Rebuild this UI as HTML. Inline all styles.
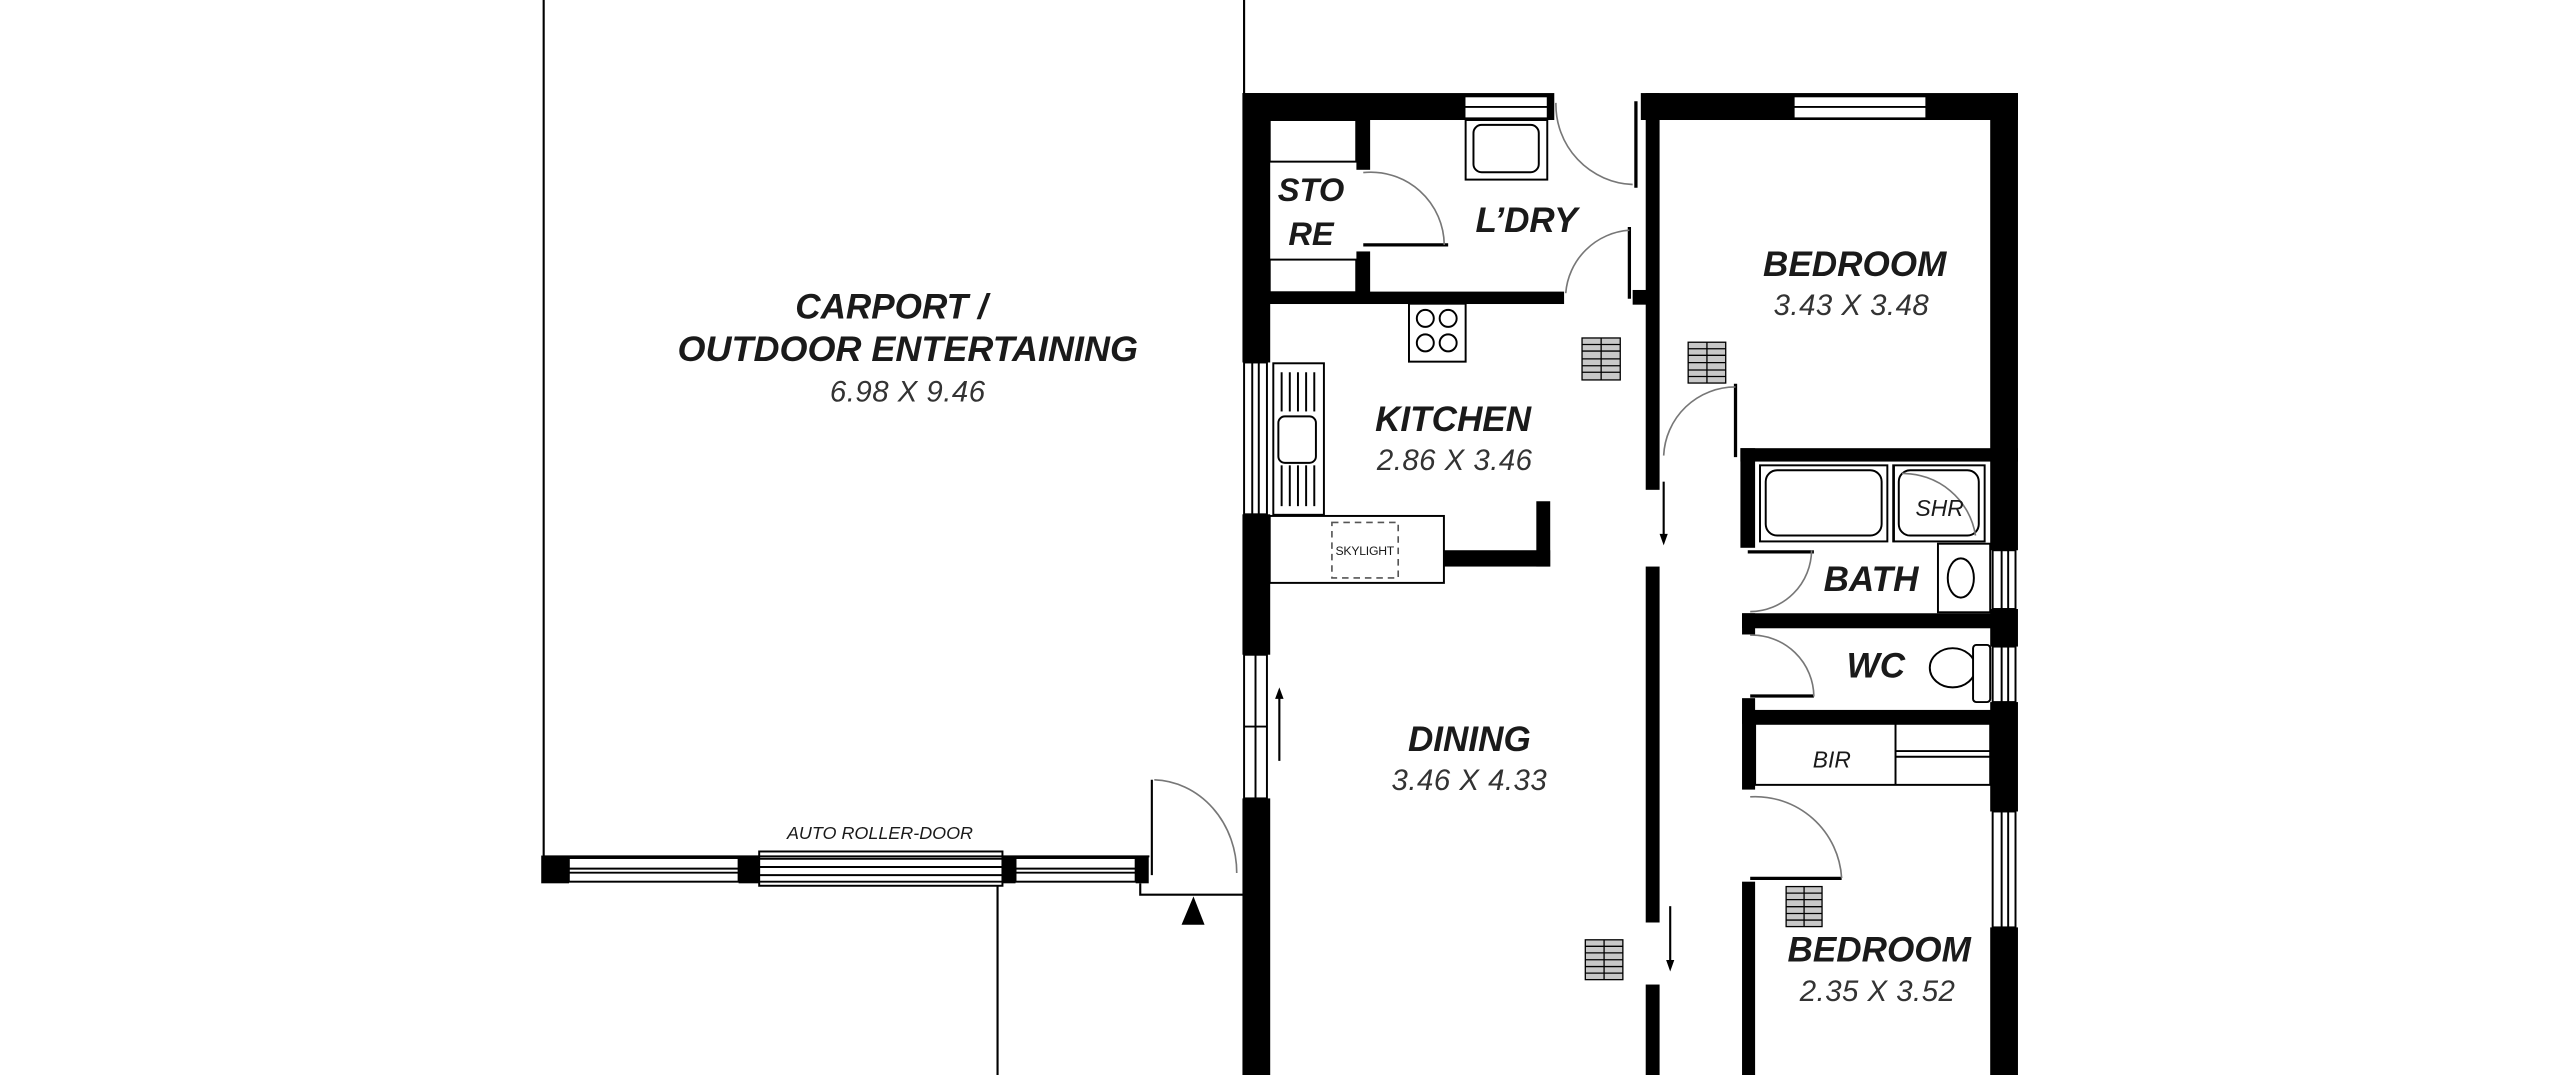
<!DOCTYPE html>
<html><head><meta charset="utf-8"><style>
html,body{margin:0;padding:0;background:#fff;width:2560px;height:1075px;overflow:hidden}
svg{display:block}
text{font-family:"Liberation Sans",Arial,sans-serif;font-style:italic;fill:#1a1a1a}
.t{font-weight:bold;font-size:21.5px}
.d{font-size:18px;fill:#333;letter-spacing:0.3px}
</style></head><body>
<svg width="2560" height="1075" viewBox="0 0 1568 658.4" preserveAspectRatio="none" xmlns="http://www.w3.org/2000/svg">
<g fill="#000" stroke="none">
<rect x="761" y="57" width="17" height="165"/>
<rect x="761" y="315" width="17" height="86"/>
<rect x="761" y="489" width="17" height="170"/>
<rect x="761" y="57" width="191" height="16.5"/>
<rect x="1005" y="57" width="231" height="16.5"/>
<rect x="1219" y="57" width="17" height="280"/>
<rect x="1219" y="373" width="17" height="23"/>
<rect x="1219" y="430" width="17" height="67"/>
<rect x="1219" y="568" width="17" height="91"/>
<rect x="1008" y="57" width="8.5" height="243"/>
<rect x="1000" y="177.6" width="9" height="9"/>
<rect x="1008" y="347" width="8.5" height="218"/>
<rect x="1008" y="603" width="8.5" height="56"/>
<rect x="830.8" y="73" width="8.4" height="31"/>
<rect x="830.8" y="154" width="8.4" height="25"/>
<rect x="777" y="178.6" width="181" height="7.6"/>
<rect x="941" y="307" width="8.5" height="40"/>
<rect x="884" y="337" width="65.5" height="10"/>
<rect x="1066" y="274.5" width="170" height="8.2"/>
<rect x="1066" y="274.5" width="9" height="61"/>
<rect x="1067" y="375.6" width="160" height="9.2"/>
<rect x="1067" y="375.6" width="8" height="13"/>
<rect x="1067" y="427.6" width="8" height="56"/>
<rect x="1067" y="434.8" width="160" height="8.5"/>
<rect x="1067" y="540" width="8" height="119"/>
<rect x="331.5" y="524" width="17" height="17"/>
<rect x="452.4" y="524" width="12.6" height="17"/>
<rect x="614" y="524" width="8" height="17"/>
<rect x="695.6" y="524" width="8" height="17"/>
<polygon points="731,549 723.7,566.4 737.8,566.4"/>
</g>
<g fill="#fff" stroke="#000" stroke-width="1.2">
<rect x="897" y="59" width="51" height="13.5"/>
<line x1="897" y1="65.5" x2="948" y2="65.5"/>
<rect x="1098.6" y="59" width="81.3" height="13.5"/>
<line x1="1098.6" y1="65.5" x2="1179.9" y2="65.5"/>
<rect x="762" y="222" width="14" height="93"/>
<line x1="767" y1="222" x2="767" y2="315"/><line x1="771" y1="222" x2="771" y2="315"/>
<rect x="762" y="401" width="14" height="88"/>
<line x1="769" y1="401" x2="769" y2="489"/><line x1="762" y1="445" x2="776" y2="445"/>
<rect x="1220.5" y="337" width="14" height="36"/><line x1="1226" y1="337" x2="1226" y2="373"/><line x1="1230" y1="337" x2="1230" y2="373"/>
<rect x="1220.5" y="396" width="14" height="34"/><line x1="1226" y1="396" x2="1226" y2="430"/><line x1="1230" y1="396" x2="1230" y2="430"/>
<rect x="1220.5" y="497" width="14" height="71"/><line x1="1226" y1="497" x2="1226" y2="568"/><line x1="1230" y1="497" x2="1230" y2="568"/>
<rect x="348.4" y="525.5" width="104" height="14.5"/>
<line x1="348.4" y1="532" x2="452.4" y2="532"/><line x1="348.4" y1="534.5" x2="452.4" y2="534.5"/>
<rect x="622" y="525.5" width="73.6" height="14.5"/>
<line x1="622" y1="532" x2="695.6" y2="532"/><line x1="622" y1="534.5" x2="695.6" y2="534.5"/>
<rect x="465" y="521.5" width="149" height="21"/>
<line x1="465" y1="526" x2="614" y2="526"/><line x1="465" y1="531" x2="614" y2="531"/><line x1="465" y1="536" x2="614" y2="536"/><line x1="465" y1="540" x2="614" y2="540"/>
<rect x="897.7" y="73.5" width="50" height="36.5"/>
<rect x="902.5" y="76.5" width="40" height="29" rx="5"/>
<rect x="777.7" y="73.5" width="53" height="25.5"/>
<rect x="777.7" y="159" width="53" height="20"/>
<rect x="863" y="186" width="34.7" height="35.5"/>
<circle cx="873" cy="195" r="5.2"/><circle cx="887" cy="195" r="5.2"/><circle cx="873" cy="210" r="5.2"/><circle cx="887" cy="210" r="5.2"/>
<rect x="779.9" y="222.5" width="31" height="92.8"/>
<line x1="785" y1="228" x2="785" y2="252"/><line x1="790" y1="228" x2="790" y2="252"/><line x1="795" y1="228" x2="795" y2="252"/><line x1="800" y1="228" x2="800" y2="252"/><line x1="805" y1="228" x2="805" y2="252"/>
<line x1="785" y1="285" x2="785" y2="310"/><line x1="790" y1="285" x2="790" y2="310"/><line x1="795" y1="285" x2="795" y2="310"/><line x1="800" y1="285" x2="800" y2="310"/><line x1="805" y1="285" x2="805" y2="310"/>
<rect x="783" y="255" width="23" height="28.5" rx="4"/>
<rect x="777.7" y="316" width="106.7" height="41"/>
<rect x="1078" y="285" width="78" height="46.6"/>
<rect x="1081.5" y="288" width="71" height="40" rx="7"/>
<rect x="1159.6" y="285" width="56" height="46.6"/>
<rect x="1163" y="288" width="49" height="40" rx="7"/>
<rect x="1187" y="333" width="32" height="42"/>
<ellipse cx="1201" cy="354" rx="8" ry="12"/>
<ellipse cx="1196" cy="409" rx="14" ry="12"/>
<rect x="1208.5" y="395" width="10.5" height="35" rx="2"/>
<rect x="1075" y="443.3" width="144" height="37.4"/>
<line x1="1161" y1="443.3" x2="1161" y2="480.7"/>
<line x1="1161" y1="460" x2="1219" y2="460"/><line x1="1161" y1="463.5" x2="1219" y2="463.5"/>
</g>
<g fill="none" stroke="#000" stroke-width="1.3">
<line x1="333" y1="0" x2="333" y2="540"/>
<line x1="762" y1="0" x2="762" y2="60"/>
<line x1="333" y1="524.5" x2="704" y2="524.5"/>
<line x1="611" y1="542" x2="611" y2="659"/>
<line x1="705.5" y1="477.6" x2="705.5" y2="536"/>
<polyline points="698.4,541 698.4,548 763,548"/>
<line x1="1160" y1="285" x2="1160" y2="332"/>
<line x1="1002" y1="62" x2="1002" y2="115" stroke-width="2"/>
<line x1="835" y1="150" x2="887" y2="150" stroke-width="2"/>
<line x1="998" y1="139" x2="998" y2="183" stroke-width="2"/>
<line x1="1063" y1="235" x2="1063" y2="280" stroke-width="2"/>
<line x1="1070.5" y1="338" x2="1111" y2="338" stroke-width="2"/>
<line x1="1072" y1="426.3" x2="1111" y2="426.3" stroke-width="2"/>
<line x1="1072" y1="538" x2="1128" y2="538" stroke-width="2"/>
<line x1="1019" y1="295" x2="1019" y2="331"/>
<line x1="1023" y1="555" x2="1023" y2="592"/>
<line x1="783.6" y1="466" x2="783.6" y2="425"/>
</g>
<g fill="#000"><polygon points="1019,334 1016.5,327 1021.5,327"/><polygon points="1023,595 1020.5,588 1025.5,588"/><polygon points="783.6,421 781,428 786.2,428"/></g>
<g fill="none" stroke="#777" stroke-width="1">
<path d="M953,63 A49,49 0 0 0 1000,113"/>
<path d="M835,105.7 A45,45 0 0 1 884.6,150"/>
<path d="M959,179.6 A42,42 0 0 1 998,141"/>
<path d="M1063,237 A44,44 0 0 0 1019,279"/>
<path d="M1109.6,337 A38,38 0 0 1 1072,374.6"/>
<path d="M1072,389 A38,38 0 0 1 1111,426.6"/>
<path d="M1072,488 A53,53 0 0 1 1128,537.8"/>
<path d="M707,477.6 A52,57 0 0 1 757.5,534.7"/>
<path d="M1165,290 A45,45 0 0 1 1210,328"/>
</g>
<rect x="815.8" y="320" width="40.6" height="34" fill="none" stroke="#555" stroke-width="1" stroke-dasharray="4,3"/>
<text x="836" y="340" style="font-size:7.5px;font-style:normal" text-anchor="middle" textLength="36">SKYLIGHT</text>
<g stroke="#000" stroke-width="0.8" fill="#c8c8c8">
<g transform="translate(969,207)"><rect width="23.4" height="25.7"/><line x1="11.7" y1="0" x2="11.7" y2="25.7"/><line x1="0" y1="4" x2="23.4" y2="4"/><line x1="0" y1="8" x2="23.4" y2="8"/><line x1="0" y1="12.8" x2="23.4" y2="12.8"/><line x1="0" y1="17" x2="23.4" y2="17"/><line x1="0" y1="21" x2="23.4" y2="21"/></g>
<g transform="translate(1034,209.6)"><rect width="23" height="25"/><line x1="11.5" y1="0" x2="11.5" y2="25"/><line x1="0" y1="4" x2="23" y2="4"/><line x1="0" y1="8" x2="23" y2="8"/><line x1="0" y1="12.5" x2="23" y2="12.5"/><line x1="0" y1="17" x2="23" y2="17"/><line x1="0" y1="21" x2="23" y2="21"/></g>
<g transform="translate(1094,543)"><rect width="22" height="24.5"/><line x1="11" y1="0" x2="11" y2="24.5"/><line x1="0" y1="4" x2="22" y2="4"/><line x1="0" y1="8" x2="22" y2="8"/><line x1="0" y1="12.3" x2="22" y2="12.3"/><line x1="0" y1="16.5" x2="22" y2="16.5"/><line x1="0" y1="20.5" x2="22" y2="20.5"/></g>
<g transform="translate(971,575.6)"><rect width="23" height="24.4"/><line x1="11.5" y1="0" x2="11.5" y2="24.4"/><line x1="0" y1="4" x2="23" y2="4"/><line x1="0" y1="8" x2="23" y2="8"/><line x1="0" y1="12.2" x2="23" y2="12.2"/><line x1="0" y1="16.4" x2="23" y2="16.4"/><line x1="0" y1="20.4" x2="23" y2="20.4"/></g>
</g>
<g text-anchor="middle">
<text class="t" x="546" y="195">CARPORT /</text>
<text class="t" x="556" y="221" textLength="282" lengthAdjust="spacingAndGlyphs">OUTDOOR ENTERTAINING</text>
<text class="d" x="556" y="246">6.98 X 9.46</text>
<text x="539" y="514" style="font-size:11px">AUTO ROLLER-DOOR</text>
<text class="t" x="803" y="123" style="font-size:20px">STO</text>
<text class="t" x="803" y="150" style="font-size:20px">RE</text>
<text class="t" x="935" y="142">L’DRY</text>
<text class="t" x="1136" y="169">BEDROOM</text>
<text class="d" x="1134" y="193">3.43 X 3.48</text>
<text class="t" x="890" y="264">KITCHEN</text>
<text class="d" x="891" y="288">2.86 X 3.46</text>
<text x="1188" y="316" style="font-size:14px">SHR</text>
<text class="t" x="1146" y="362">BATH</text>
<text class="t" x="1149" y="415">WC</text>
<text x="1122" y="470" style="font-size:14px">BIR</text>
<text class="t" x="900" y="460">DINING</text>
<text class="d" x="900" y="484">3.46 X 4.33</text>
<text class="t" x="1151" y="589">BEDROOM</text>
<text class="d" x="1150" y="613">2.35 X 3.52</text>
</g>
</svg>
</body></html>
